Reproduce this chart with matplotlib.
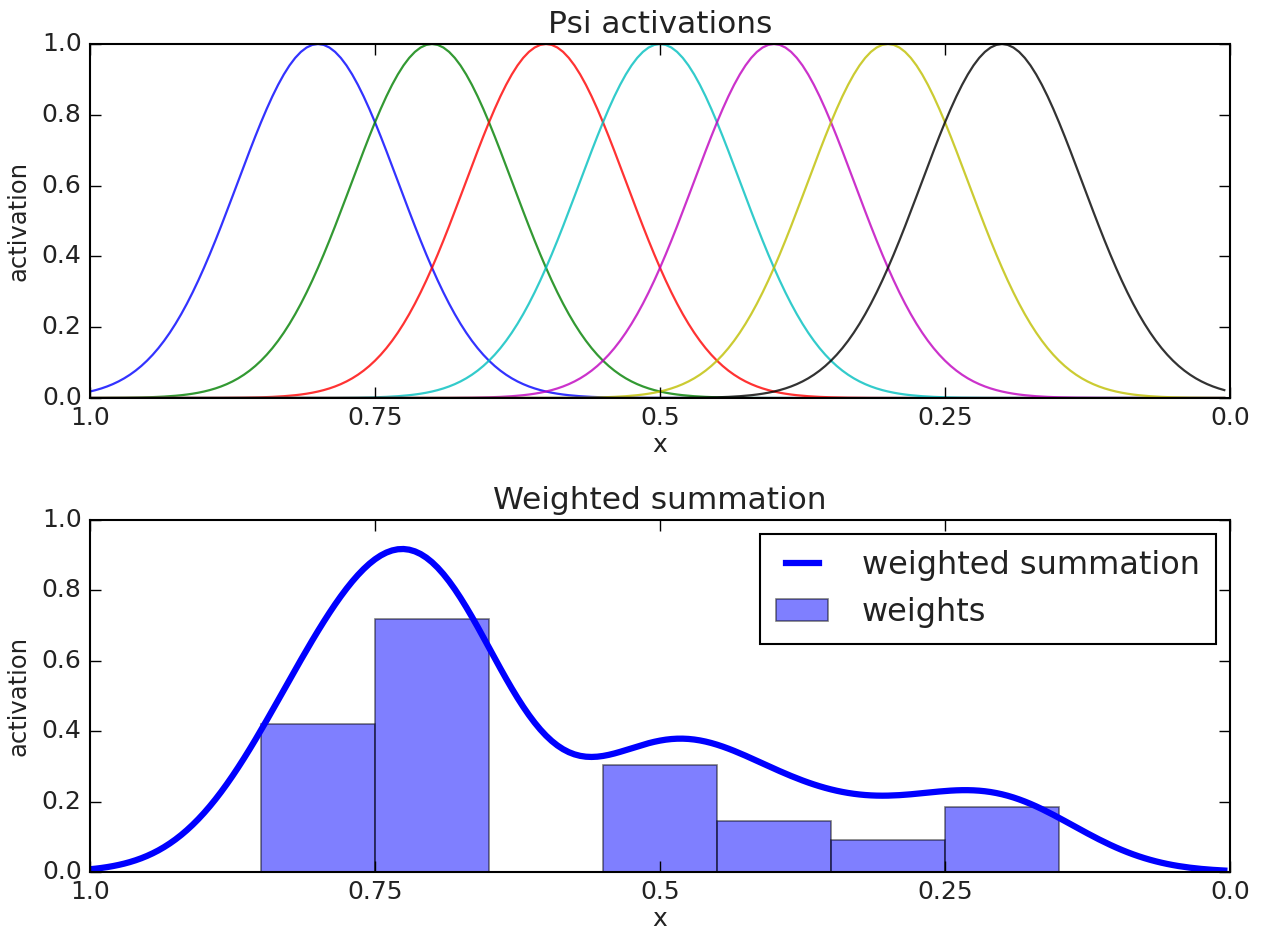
import numpy as np
import matplotlib
matplotlib.use("Agg")
import matplotlib.pyplot as plt

# Basis function centres (in phase x) and their weights
centers = [0.8, 0.7, 0.6, 0.5, 0.4, 0.3, 0.2]
weights = [0.42, 0.72, 0.0, 0.305, 0.145, 0.09, 0.185]
colors = ['b', 'g', 'r', 'c', 'm', 'y', 'k']
width_h = 100.0
tick_labels = ['1.0', '0.75', '0.5', '0.25', '0.0']
bar_width = 0.1

t = np.arange(0.0, 1.0, 0.005)
xs = 1.0 - t

plt.style.use('classic')
plt.rcParams['font.family'] = ['DejaVu Sans']
txtcol = '#222222'

fig = plt.figure(figsize=(12.61, 9.31), dpi=100, facecolor='white')
ax1 = fig.add_axes([90/1261, 1-398/931, 1140/1261, 354/931])
ax2 = fig.add_axes([90/1261, 1-872/931, 1140/1261, 352/931])

psis = []
for c, col in zip(centers, colors):
    p = np.exp(-width_h * (xs - c) ** 2)
    psis.append(p)
    ax1.plot(t, p, color=col, lw=1.6, alpha=0.8)

ax1.set_title('Psi activations', fontsize=22.5, color=txtcol, pad=8)

total = np.zeros_like(t)
for w, p in zip(weights, psis):
    total += w * p
ax2.plot(t, total, color='b', lw=4.5, label='weighted summation')
ax2.bar([1 - c for c in centers], weights, width=bar_width, align='center',
        color='b', alpha=0.5, edgecolor='k', linewidth=1.2, label='weights')
ax2.set_title('Weighted summation', fontsize=22.5, color=txtcol, pad=8)
leg = ax2.legend(loc='upper right', fontsize=23, handlelength=1.62,
                 borderpad=0.5, labelspacing=0.5, handletextpad=1.05,
                 borderaxespad=0.45)
for txt in leg.get_texts():
    txt.set_color(txtcol)
leg.get_frame().set_linewidth(1.5)

for ax in (ax1, ax2):
    ax.set_xlim(0, 1)
    ax.set_ylim(0, 1)
    ax.set_xticks([0, 0.25, 0.5, 0.75, 1.0])
    ax.set_xticklabels(tick_labels)
    ax.set_yticks([0, 0.2, 0.4, 0.6, 0.8, 1.0])
    ax.set_xlabel('x', fontsize=18, labelpad=2, color=txtcol)
    ax.set_ylabel('activation', fontsize=17.5, labelpad=8, color=txtcol)
    ax.tick_params(labelsize=18, length=8, width=1, direction='in', pad=6,
                   top=True, right=True, labelcolor=txtcol)
    for s in ax.spines.values():
        s.set_linewidth(1.5)

fig.savefig('out.png', dpi=100, facecolor='white')
